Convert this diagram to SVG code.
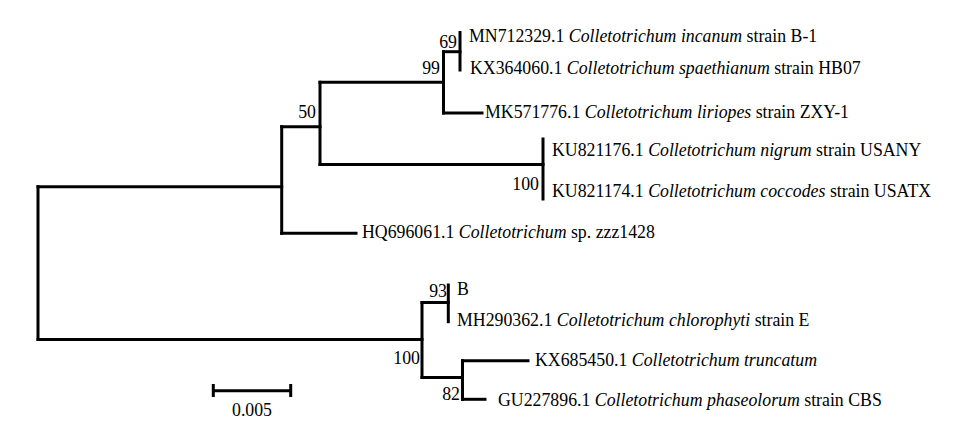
<svg xmlns="http://www.w3.org/2000/svg" width="978" height="438" viewBox="0 0 978 438">
<style>
.br{stroke:#000;stroke-width:3;fill:none;stroke-linecap:square}
.t{font-size:17.8px;fill:#000}
.bs{text-anchor:end}
.i{font-style:italic}
</style>
<rect width="978" height="438" fill="#fff"/>
<g id="connectors">
<path class="br" d="M38,186.7V339.5"/>
<path class="br" d="M38,186.7H281.7"/>
<path class="br" d="M281.7,126.7V233.3"/>
<path class="br" d="M281.7,233.3H356"/>
<path class="br" d="M281.7,126.7H320"/>
<path class="br" d="M320,82.3V164.5"/>
<path class="br" d="M320,82.3H443.5"/>
<path class="br" d="M443.5,51.7V113"/>
<path class="br" d="M443.5,51.7H460"/>
<path class="br" d="M460,32.5V70"/>
<path class="br" d="M443.5,113H482"/>
<path class="br" d="M320,164.5H543"/>
<path class="br" d="M543,139V199"/>
<path class="br" d="M38,339.5H422"/>
<path class="br" d="M422,302.5V377.5"/>
<path class="br" d="M422,302.5H448.3"/>
<path class="br" d="M448.3,285V321.7"/>
<path class="br" d="M422,377.5H462.5"/>
<path class="br" d="M462.5,360.7V399.3"/>
<path class="br" d="M462.5,360.7H528"/>
<path class="br" d="M462.5,399.3H485"/>
</g>
<g font-family="Liberation Serif, Times New Roman, serif" class="t">
<g id="n69"><text class="bs" x="457" y="48">69</text></g>
<g id="n99"><text class="bs" x="440" y="74">99</text></g>
<g id="n50"><text class="bs" x="316" y="118">50</text></g>
<g id="n100a"><text class="bs" x="539" y="190">100</text></g>
<g id="n93"><text class="bs" x="447" y="297">93</text></g>
<g id="n100b"><text class="bs" x="420" y="364">100</text></g>
<g id="n82"><text class="bs" x="460" y="400">82</text></g>
<g id="leaf-MN712329"><text x="469" y="42">MN712329.1 <tspan class="i">Colletotrichum incanum</tspan> strain B-1</text></g>
<g id="leaf-KX364060"><text x="470" y="74">KX364060.1 <tspan class="i">Colletotrichum spaethianum</tspan> strain HB07</text></g>
<g id="leaf-MK571776"><text x="485" y="118">MK571776.1 <tspan class="i">Colletotrichum liriopes</tspan> strain ZXY-1</text></g>
<g id="leaf-KU821176"><text x="552" y="156">KU821176.1 <tspan class="i">Colletotrichum nigrum</tspan> strain USANY</text></g>
<g id="leaf-KU821174"><text x="552" y="197">KU821174.1 <tspan class="i">Colletotrichum coccodes</tspan> strain USATX</text></g>
<g id="leaf-HQ696061"><text x="362" y="238">HQ696061.1 <tspan class="i">Colletotrichum</tspan> sp. zzz1428</text></g>
<g id="leaf-B"><text x="457" y="295">B</text></g>
<g id="leaf-MH290362"><text x="457" y="326">MH290362.1 <tspan class="i">Colletotrichum chlorophyti</tspan> strain E</text></g>
<g id="leaf-KX685450"><text x="535" y="366">KX685450.1 <tspan class="i">Colletotrichum truncatum</tspan></text></g>
<g id="leaf-GU227896"><text x="498" y="406">GU227896.1 <tspan class="i">Colletotrichum phaseolorum</tspan> strain CBS</text></g>
<g id="scale">
<path class="br" d="M213.3,390.7H290.7M213.3,384V397M290.7,384V397" style="stroke-linecap:butt"/>
<text x="252" y="416" text-anchor="middle">0.005</text>
</g>
</g>
</svg>
